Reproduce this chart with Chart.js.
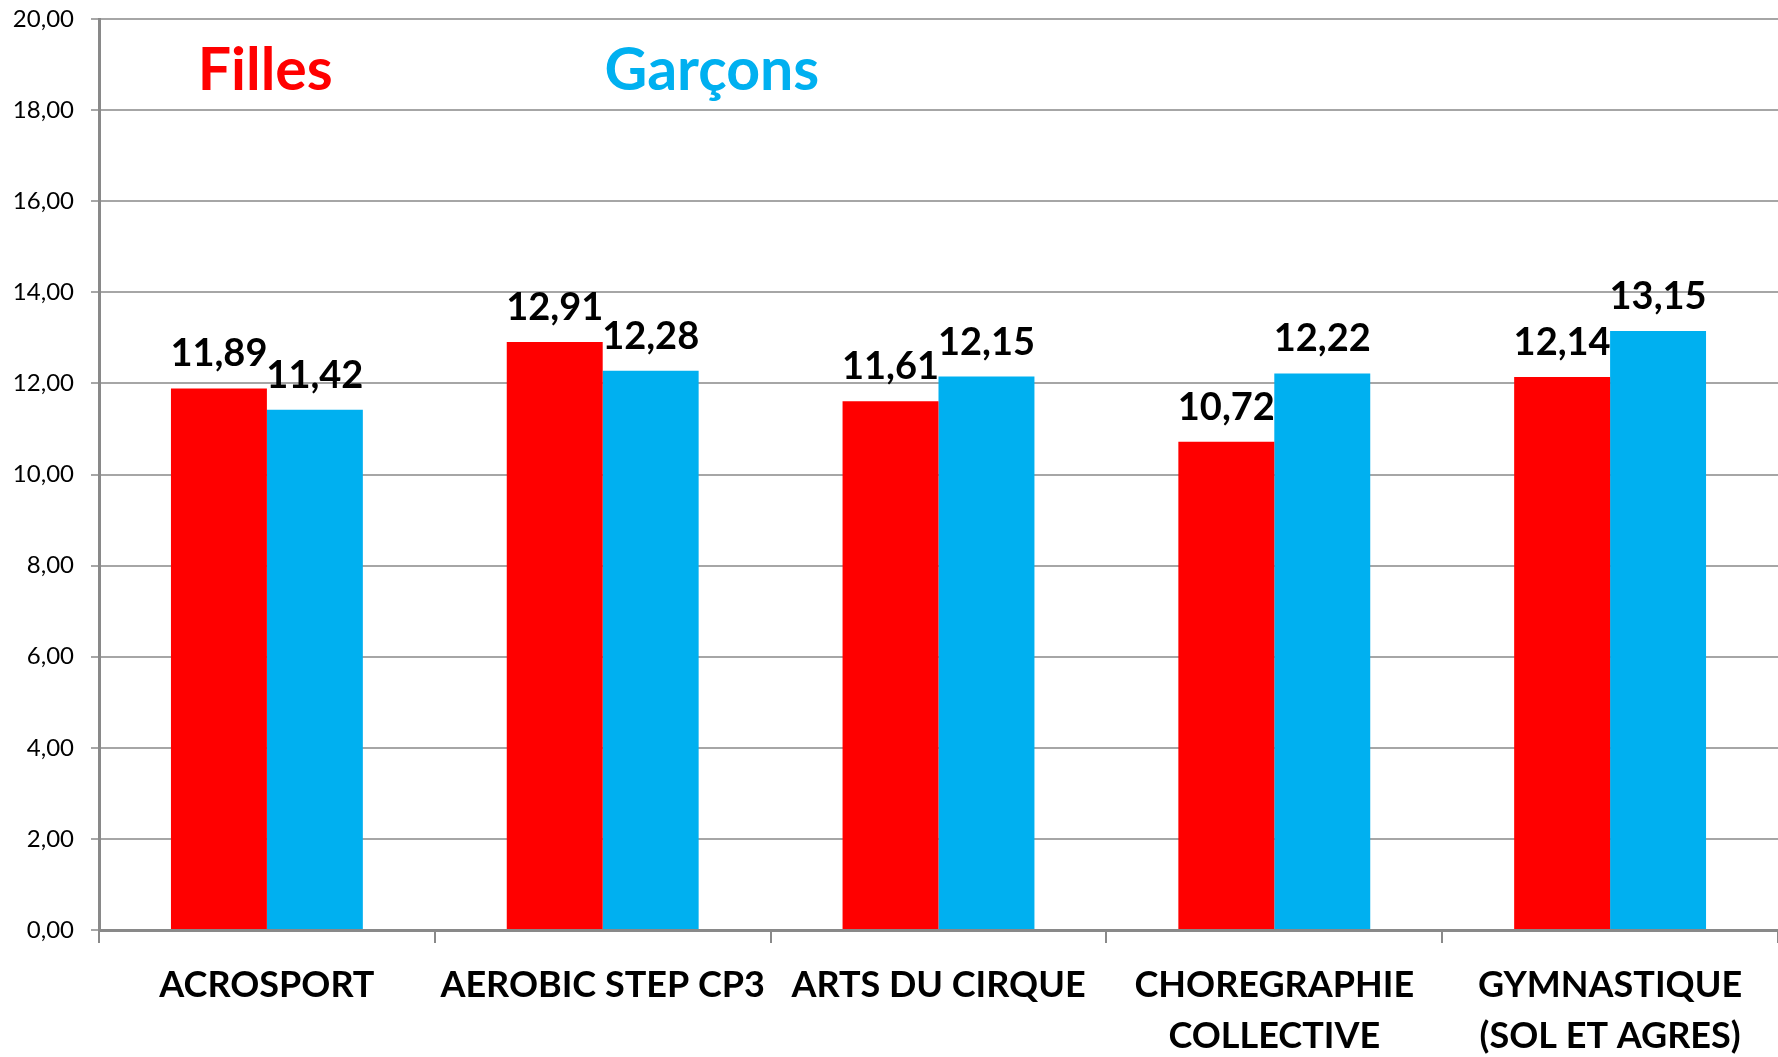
<!DOCTYPE html>
<html>
<head>
<meta charset="utf-8">
<script src="https://cdn.jsdelivr.net/npm/chart.js@4/dist/chart.umd.min.js"></script>
<style>
html,body{margin:0;padding:0;background:#fff;}
#wrap{width:1778px;height:1057px;}
</style>
</head>
<body>
<div id="wrap"><canvas id="c" width="1778" height="1057"></canvas></div>
<script>
const categories = [
  "ACROSPORT",
  "AEROBIC STEP CP3",
  "ARTS DU CIRQUE",
  ["CHOREGRAPHIE", "COLLECTIVE"],
  ["GYMNASTIQUE", "(SOL ET AGRES)"]
];
const seriesNames = ["Filles", "Garçons"];
const filles = [11.89, 12.91, 11.61, 10.72, 12.14];
const garcons = [11.42, 12.28, 12.15, 12.22, 13.15];
const yMin = 0, yMax = 20, yStep = 2;

const RED = "#FF0000", BLUE = "#00B0F0";
const fmt = v => v.toFixed(2).replace(".", ",");

const dataLabels = {
  id: "dataLabels",
  afterDatasetsDraw(chart) {
    const ctx = chart.ctx;
    ctx.save();
    ctx.font = "bold 38px Lato";
    ctx.fillStyle = "#000";
    ctx.textAlign = "center";
    ctx.textBaseline = "alphabetic";
    chart.data.datasets.forEach((ds, i) => {
      const meta = chart.getDatasetMeta(i);
      meta.data.forEach((el, j) => {
        ctx.fillText(fmt(ds.data[j]), el.x, el.y - 22);
      });
    });
    ctx.restore();
  }
};

const seriesTitles = {
  id: "seriesTitles",
  afterDatasetsDraw(chart) {
    const ctx = chart.ctx, a = chart.chartArea;
    const pos = [0.099, 0.365];
    ctx.save();
    ctx.font = "bold 59px Lato";
    ctx.textAlign = "center";
    ctx.textBaseline = "alphabetic";
    chart.data.datasets.forEach((ds, i) => {
      ctx.fillStyle = ds.backgroundColor;
      ctx.fillText(ds.label, a.left + pos[i] * (a.right - a.left), 90);
    });
    ctx.restore();
  }
};

new Chart(document.getElementById("c"), {
  type: "bar",
  data: {
    labels: categories,
    datasets: [
      { label: seriesNames[0], data: filles, backgroundColor: RED },
      { label: seriesNames[1], data: garcons, backgroundColor: BLUE }
    ]
  },
  options: {
    responsive: false,
    animation: false,
    layout: { padding: { top: 19, right: 0, left: 0, bottom: 0 } },
    datasets: { bar: { categoryPercentage: 2 / 3.5, barPercentage: 1.0 } },
    plugins: { legend: { display: false }, tooltip: { enabled: false } },
    scales: {
      x: {
        afterFit(s) { s.height = 127; s.paddingLeft = 0; s.paddingRight = 0; s.paddingTop = 0; s.paddingBottom = 0; },
        grid: { drawOnChartArea: false, color: "#898989", lineWidth: 2, tickLength: 13, offset: true },
        border: { color: "#898989", width: 3 },
        ticks: {
          color: "#000",
          font: { family: "Lato", size: 36, weight: "bold", lineHeight: 1.42 },
          padding: 17,
          maxRotation: 0,
          autoSkip: false
        }
      },
      y: {
        min: yMin, max: yMax,
        afterFit(s) { s.width = 99; s.paddingTop = 0; s.paddingBottom = 0; s.paddingLeft = 0; s.paddingRight = 0; },
        grid: { color: "#A6A6A6", lineWidth: 2, tickLength: 8 },
        border: { color: "#898989", width: 3 },
        ticks: {
          stepSize: yStep,
          color: "#000",
          font: { family: "Lato", size: 24 },
          padding: 17,
          callback: v => fmt(v)
        }
      }
    }
  },
  plugins: [dataLabels, seriesTitles]
});
</script>
</body>
</html>
